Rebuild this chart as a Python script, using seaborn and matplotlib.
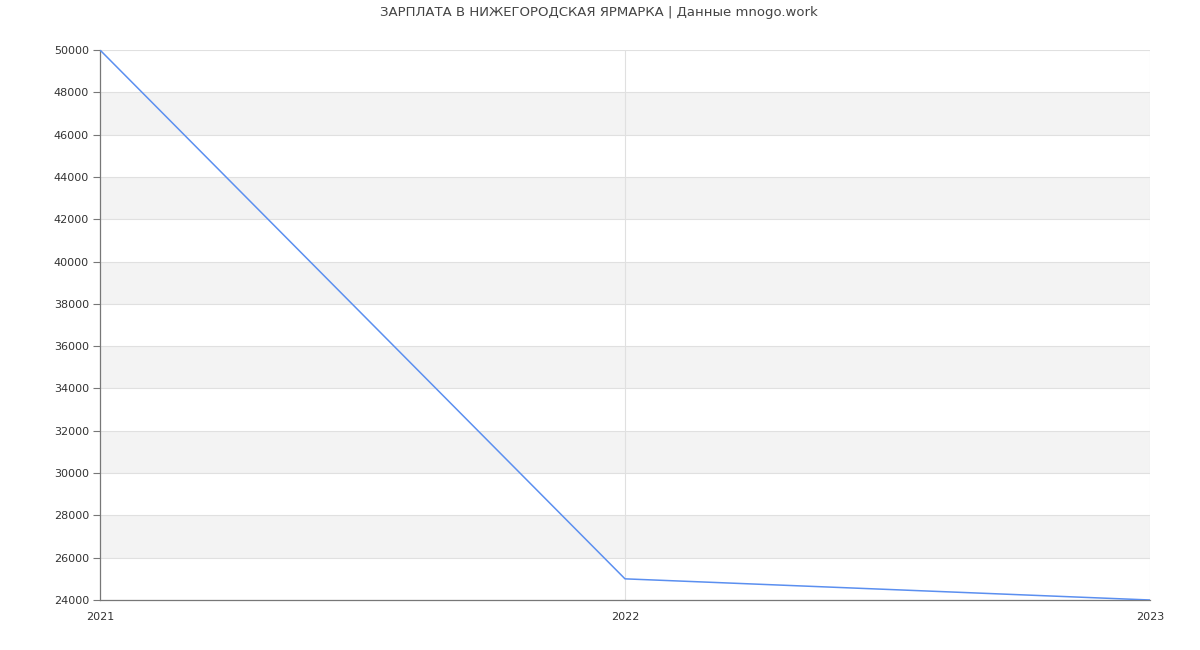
import matplotlib
matplotlib.use("Agg")
import matplotlib.pyplot as plt
import seaborn as sns
import pandas as pd

years = [2021, 2022, 2023]
salaries = [50000, 25000, 24000]
y_ticks = list(range(24000, 50001, 2000))
title = "ЗАРПЛАТА В НИЖЕГОРОДСКАЯ ЯРМАРКА | Данные mnogo.work"

sns.set_theme(style="white")
plt.rcParams['font.family'] = ['DejaVu Sans']

df = pd.DataFrame({"year": years, "salary": salaries})

fig = plt.figure(figsize=(12, 6.5), dpi=100)
ax = fig.add_axes([100/1200, 50/650, 1050/1200, 550/650])

# alternating bands
for i, (lo, hi) in enumerate(zip(y_ticks[:-1], y_ticks[1:])):
    if i % 2 == 1:
        ax.axhspan(lo, hi, color="#f3f3f3", zorder=0, lw=0)
for t in y_ticks:
    ax.axhline(t, color="#e0e0e0", lw=0.8, zorder=1)
for x in years[1:]:
    ax.axvline(x, color="#e0e0e0", lw=0.8, zorder=1)

sns.lineplot(data=df, x="year", y="salary", ax=ax, color="#5b8ff0", lw=1.1, zorder=3)

ax.set_xlim(years[0], years[-1])
ax.set_ylim(y_ticks[0], y_ticks[-1])
ax.set_xticks(years)
ax.set_xticklabels([str(y) for y in years])
ax.set_yticks(y_ticks)
ax.set_yticklabels([str(t) for t in y_ticks])
ax.set_xlabel("")
ax.set_ylabel("")
ax.tick_params(axis="y", labelsize=8, colors="#333333", length=5, width=0.8, left=True, color="#777777", pad=3)
ax.tick_params(axis="x", labelsize=8, colors="#333333", length=0, pad=9)
for s in ["top", "right"]:
    ax.spines[s].set_visible(False)
ax.spines["left"].set_color("#777777")
ax.spines["bottom"].set_color("#777777")
ax.spines["left"].set_linewidth(0.9)
ax.spines["bottom"].set_linewidth(0.9)

fig.text(0.499, 1 - 12.5/650, title, ha="center", va="center", fontsize=9.5, color="#444444")

fig.savefig("out.png", dpi=100, facecolor="white")
